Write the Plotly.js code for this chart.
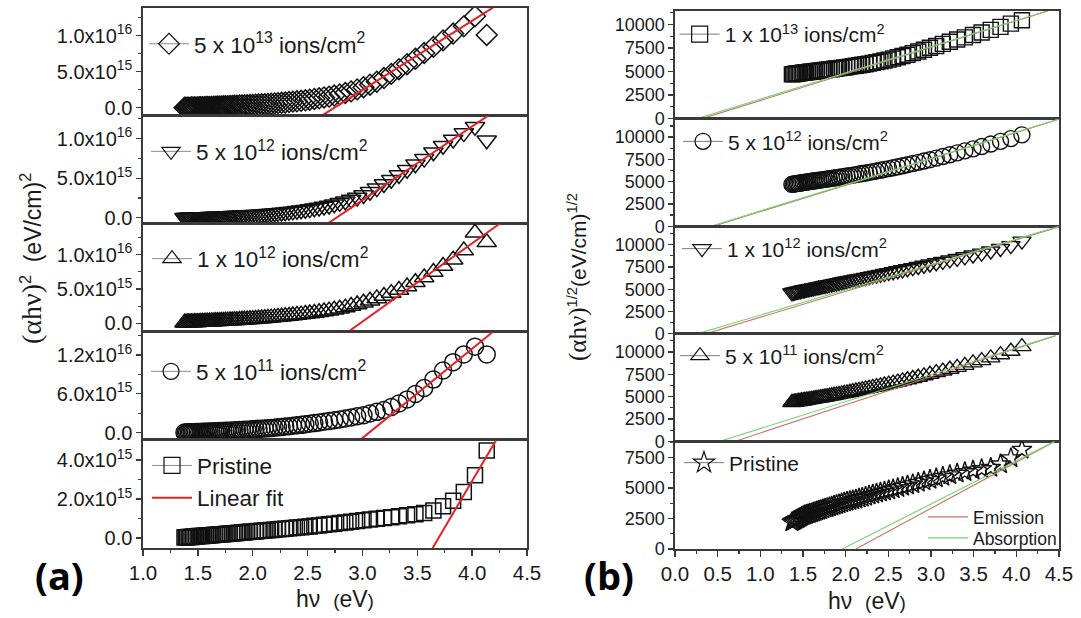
<!DOCTYPE html>
<html><head><meta charset="utf-8">
<script src="https://cdn.plot.ly/plotly-3.0.1.min.js"></script>
<style>html,body{margin:0;padding:0;background:#fff}#chart{width:1081px;height:618px}</style>
</head><body><div id="chart"></div>
<script>
// ---------- Panel (a): Tauc plot (αhν)^2, values in units of 1e15 (eV/cm)^2 ----------
const SCALE_A = 1e15;
const energyA = [1.378,1.390,1.403,1.416,1.429,1.442,1.455,1.469,1.483,1.498,
 1.512,1.527,1.542,1.558,1.574,1.590,1.606,1.623,1.640,1.658,
 1.676,1.694,1.713,1.732,1.751,1.771,1.792,1.813,1.834,1.856,
 1.879,1.902,1.925,1.950,1.975,2.000,2.026,2.053,2.081,2.109,
 2.138,2.168,2.199,2.230,2.263,2.296,2.331,2.366,2.403,2.441,
 2.480,2.520,2.562,2.605,2.650,2.696,2.743,2.793,2.844,2.897,
 2.952,3.010,3.069,3.131,3.196,3.263,3.333,3.407,3.483,3.563,
 3.647,3.735,3.827,3.924,4.026,4.133];
const tauc5e13 = [0.00,0.01,0.01,0.02,0.02,0.03,0.04,0.04,0.05,0.06,
 0.07,0.08,0.09,0.09,0.10,0.11,0.12,0.13,0.14,0.15,
 0.17,0.18,0.19,0.20,0.21,0.23,0.24,0.26,0.27,0.29,
 0.31,0.32,0.34,0.36,0.38,0.40,0.43,0.45,0.48,0.51,
 0.54,0.57,0.61,0.65,0.69,0.73,0.79,0.85,0.90,0.97,
 1.04,1.12,1.22,1.31,1.43,1.55,1.70,1.86,2.05,2.28,
 2.55,2.85,3.20,3.62,4.12,4.70,5.35,6.05,6.80,7.60,
 8.45,9.35,10.3,11.3,12.7,10.1];
const tauc5e12 = [0.00,0.01,0.01,0.02,0.02,0.03,0.04,0.04,0.05,0.06,
 0.07,0.07,0.08,0.09,0.10,0.10,0.11,0.12,0.13,0.14,
 0.16,0.17,0.18,0.19,0.20,0.21,0.22,0.24,0.25,0.27,
 0.29,0.30,0.32,0.34,0.35,0.37,0.39,0.42,0.44,0.47,
 0.50,0.53,0.57,0.61,0.65,0.70,0.75,0.80,0.87,0.94,
 1.01,1.09,1.19,1.29,1.41,1.54,1.71,1.88,2.08,2.29,
 2.56,2.87,3.28,3.74,4.27,4.80,5.40,6.06,6.75,7.47,
 8.27,9.10,9.90,10.7,11.5,9.8];
const tauc1e12 = [0.10,0.11,0.12,0.13,0.14,0.14,0.15,0.16,0.17,0.18,
 0.19,0.20,0.21,0.22,0.23,0.24,0.26,0.27,0.28,0.30,
 0.31,0.33,0.35,0.36,0.38,0.40,0.41,0.43,0.45,0.47,
 0.50,0.52,0.54,0.57,0.60,0.62,0.65,0.69,0.72,0.76,
 0.80,0.84,0.88,0.93,0.98,1.03,1.09,1.15,1.21,1.28,
 1.36,1.44,1.52,1.61,1.73,1.86,1.99,2.13,2.30,2.53,
 2.76,3.00,3.31,3.64,3.98,4.41,4.86,5.36,6.00,6.68,
 7.47,8.35,9.27,10.6,13.2,11.8];
const tauc5e11 = [0.00,0.01,0.02,0.03,0.03,0.04,0.05,0.06,0.07,0.08,
 0.09,0.10,0.11,0.12,0.13,0.14,0.15,0.17,0.18,0.19,
 0.21,0.22,0.23,0.25,0.26,0.28,0.29,0.31,0.33,0.36,
 0.38,0.40,0.43,0.45,0.48,0.50,0.53,0.57,0.60,0.64,
 0.67,0.71,0.75,0.80,0.86,0.92,0.98,1.04,1.11,1.19,
 1.28,1.37,1.46,1.56,1.67,1.79,1.91,2.03,2.18,2.34,
 2.51,2.68,2.95,3.20,3.50,3.95,4.50,5.13,5.96,6.90,
 8.20,9.60,10.9,12.1,13.3,12.1];
const taucPristine = [0.02,0.03,0.03,0.04,0.05,0.05,0.06,0.06,0.07,0.08,
 0.09,0.09,0.10,0.11,0.12,0.12,0.13,0.14,0.15,0.16,
 0.16,0.17,0.18,0.19,0.20,0.21,0.22,0.23,0.24,0.25,
 0.26,0.27,0.28,0.30,0.31,0.32,0.33,0.35,0.36,0.38,
 0.39,0.41,0.42,0.44,0.46,0.47,0.49,0.51,0.53,0.55,
 0.57,0.59,0.62,0.64,0.67,0.70,0.73,0.76,0.79,0.83,
 0.87,0.91,0.94,0.98,1.02,1.06,1.11,1.16,1.21,1.28,
 1.40,1.62,1.91,2.36,3.21,4.48];
const labelsA = ['5 x 10<sup>13</sup> ions/cm<sup>2</sup>','5 x 10<sup>12</sup> ions/cm<sup>2</sup>',
 '1 x 10<sup>12</sup> ions/cm<sup>2</sup>','5 x 10<sup>11</sup> ions/cm<sup>2</sup>','Pristine'];
// linear fits (end points, eV and 1e15 units)
const fitAx = [[2.63,4.19],[2.68,4.145],[2.87,4.25],[2.98,4.19],[3.64,4.22]];
const fitAy = [[-1.1,13.9],[-0.77,12.9],[-1.22,14.5],[-1.14,15.6],[-0.52,5.03]];
const tickValsA = [[0,5,10],[0,5,10],[0,5,10],[0,6,12],[0,2,4]];
const tickTextA = [
 ['0.0','5.0x10<sup>15</sup>','1.0x10<sup>16</sup>'],
 ['0.0','5.0x10<sup>15</sup>','1.0x10<sup>16</sup>'],
 ['0.0','5.0x10<sup>15</sup>','1.0x10<sup>16</sup>'],
 ['0.0','6.0x10<sup>15</sup>','1.2x10<sup>16</sup>'],
 ['0.0','2.0x10<sup>15</sup>','4.0x10<sup>15</sup>']];
const minorValsA = [[2.5,7.5,12.5],[2.5,7.5,12.5],[2.5,7.5,12.5],[3,9,15],[1,3]];

// ---------- Panel (b): (αhν)^(1/2) ----------
const energyB = [1.370,1.385,1.401,1.417,1.434,1.450,1.467,1.485,1.503,1.521,
 1.540,1.560,1.580,1.600,1.621,1.642,1.664,1.687,1.710,1.734,
 1.759,1.784,1.810,1.837,1.865,1.893,1.922,1.953,1.984,2.016,
 2.050,2.084,2.120,2.157,2.195,2.234,2.275,2.318,2.362,2.408,
 2.455,2.505,2.557,2.611,2.667,2.725,2.787,2.851,2.918,2.988,
 3.062,3.139,3.221,3.307,3.397,3.493,3.594,3.701,3.815,3.937,
 4.066];
const root1e13 = [4700,4720,4740,4760,4790,4810,4830,4860,4880,4900,
 4920,4940,4970,4990,5010,5030,5060,5080,5110,5130,
 5160,5190,5220,5250,5290,5320,5360,5390,5430,5470,
 5520,5570,5620,5670,5720,5780,5840,5920,6000,6080,
 6170,6260,6390,6520,6650,6790,6950,7130,7320,7520,
 7720,7940,8170,8400,8630,8880,9150,9420,9740,10090,
 10450];
const root5e12 = [4700,4720,4750,4770,4800,4820,4850,4870,4900,4930,
 4950,4980,5010,5040,5070,5100,5130,5160,5190,5230,
 5260,5300,5330,5370,5410,5450,5490,5530,5580,5630,
 5680,5730,5790,5850,5910,5970,6040,6120,6200,6280,
 6370,6460,6560,6670,6780,6900,7030,7160,7310,7460,
 7640,7820,8020,8230,8450,8680,8940,9220,9520,9830,
 10250];
const root1e12 = [4600,4630,4670,4710,4750,4780,4820,4870,4910,4940,
 4980,5020,5060,5100,5140,5180,5230,5270,5320,5370,
 5420,5470,5520,5570,5630,5690,5740,5810,5870,5930,
 5990,6050,6120,6180,6250,6320,6400,6490,6570,6670,
 6760,6860,6960,7070,7180,7300,7420,7550,7690,7830,
 7970,8130,8290,8460,8640,8840,9050,9290,9570,9890,
 10400];
const root5e11 = [4350,4370,4400,4420,4450,4470,4500,4520,4550,4580,
 4610,4640,4680,4710,4740,4780,4810,4850,4890,4920,
 4970,5010,5060,5110,5160,5210,5260,5320,5370,5430,
 5500,5570,5640,5710,5790,5870,5950,6040,6120,6220,
 6310,6410,6530,6640,6770,6900,7040,7180,7340,7510,
 7690,7870,8070,8280,8510,8780,9040,9340,9700,10090,
 10600];
const rootPristine = [2200,2260,2320,2380,2450,2510,2570,2640,2710,2760,
 2800,2850,2900,2940,2990,3040,3090,3150,3200,3260,
 3320,3370,3430,3490,3550,3610,3680,3750,3820,3880,
 3940,4000,4070,4140,4210,4280,4390,4470,4550,4630,
 4720,4810,4900,5000,5100,5200,5320,5430,5550,5680,
 5800,5920,6060,6190,6310,6440,6560,6670,6950,7450,
 8150];
const labelsB = ['1 x 10<sup>13</sup> ions/cm<sup>2</sup>','5 x 10<sup>12</sup> ions/cm<sup>2</sup>',
 '1 x 10<sup>12</sup> ions/cm<sup>2</sup>','5 x 10<sup>11</sup> ions/cm<sup>2</sup>','Pristine'];
const emissionX = [[0.32,4.37],[0.45,4.5],[0.36,4.5],[0.70,4.46],[2.12,4.45]];
const emissionY = [[0,11430],[0,12000],[0,12000],[0,11830],[0,8820]];
const absorptionX = [[0.26,4.36],[0.42,4.5],[0.26,4.5],[0.52,4.46],[1.96,4.45]];
const absorptionY = [[0,11430],[0,12030],[0,12050],[0,11850],[0,8820]];

// ---------- styling ----------
const FONT = 'Liberation Sans, Arial, sans-serif';
const INK = '#1a1a1a';
const FRAME = '#3a3a3a';
const seriesA = [tauc5e13, tauc5e12, tauc1e12, tauc5e11, taucPristine];
const seriesB = [root1e13, root5e12, root1e12, root5e11, rootPristine];
const symA = ['diamond-open','triangle-down-open','triangle-up-open','circle-open','square-open'];
const sizeA = [16,17,17,17,15];
const symB = ['square-open','circle-open','triangle-down-open','triangle-up-open','star-open'];
const sizeB = [15,16,16,16,15];
const rangeA = [[-1.1,13.9],[-0.77,12.9],[-1.22,14.5],[-1.14,15.6],[-0.52,5.03]];
const rangeB = [[0,11430],[0,12075],[0,12075],[0,12037],[0,8820]];
const yDomA = [[0.81278,0.98770],[0.63786,0.81278],[0.46311,0.63786],[0.28819,0.46311],[0.11327,0.28819]];
const yDomB = [[0.80809,0.98220],[0.63398,0.80809],[0.45987,0.63398],[0.28576,0.45987],[0.11165,0.28576]];
const xDomA = [0.1323,0.4875];
const xDomB = [0.6244,0.9796];
const legPosA = [[0.1332,0.9286,'middle'],[0.1351,0.7545,'middle'],[0.1360,0.5809,'middle'],[0.1351,0.3985,'middle'],[0.1360,0.2810,'top']];
const legPosB = [[0.6241,0.9442],[0.6272,0.7707],[0.6263,0.5971],[0.6244,0.4239],[0.6281,0.2508]];

const traces = [];
const layout = {
  width:1081, height:618, margin:{l:0,r:0,t:0,b:0},
  paper_bgcolor:'#fff', plot_bgcolor:'#fff', showlegend:true,
  font:{family:FONT, color:INK},
  annotations:[],
};
function sfx(k){ return k===1 ? '' : String(k); }

function xAxis(k, dom, range, bottom){
  const ax = {domain:dom, range:range, anchor:'y'+sfx(k), showline:true, mirror:true,
    linecolor:FRAME, linewidth:1.6, showgrid:false, zeroline:false,
    ticks: bottom ? 'outside' : '', showticklabels: bottom,
    tickmode:'linear', tick0:0, dtick:0.5, tickformat:'.1f',
    ticklen:6, tickwidth:1.3, tickcolor:FRAME,
    tickfont:{family:FONT, size:20.5, color:INK}};
  if(bottom){
    ax.minor = {ticks:'outside', ticklen:3.5, tickwidth:1.2, tickcolor:FRAME, tick0:0, dtick:0.25};
    ax.title = {text:'h\u03bd\u00a0 <span style="font-size:19px">(</span>eV<span style="font-size:19px">)</span>',
      font:{family:FONT, size:23, color:INK}, standoff:8};
  }
  return ax;
}

for(let i=0;i<5;i++){
  const k = i+1, s = sfx(k);
  layout['xaxis'+s] = xAxis(k, xDomA, [1.0,4.5], i===4);
  layout['yaxis'+s] = {domain:yDomA[i], range:rangeA[i].map(v=>v*SCALE_A), anchor:'x'+s,
    showline:true, mirror:true, linecolor:FRAME, linewidth:1.6, showgrid:false, zeroline:false,
    ticks:'outside', ticklen:5, tickwidth:1.3, tickcolor:FRAME,
    tickmode:'array', tickvals:tickValsA[i].map(v=>v*SCALE_A), ticktext:tickTextA[i],
    tickfont:{family:FONT, size:20, color:INK},
    minor:{tickmode:'array', tickvals:minorValsA[i].map(v=>v*SCALE_A), ticks:'outside', ticklen:3, tickwidth:1.2, tickcolor:FRAME}};
  const lg = 'legend'+s;
  layout[lg] = {x:legPosA[i][0], y:legPosA[i][1], xanchor:'left', yanchor:legPosA[i][2],
    bgcolor:'rgba(0,0,0,0)', borderwidth:0, itemwidth:40, tracegroupgap:0,
    font:{family:FONT, size:22.5, color:INK}};
  traces.push({x:energyA, y:seriesA[i].map(v=>v*SCALE_A), xaxis:'x'+s, yaxis:'y'+s, mode:'markers',
    marker:{symbol:symA[i], size:sizeA[i], color:'#111', line:{color:'#111', width:1.5}}, showlegend:false});
  traces.push({x:[null], y:[null], xaxis:'x'+s, yaxis:'y'+s, mode:'lines+markers', name:labelsA[i], legend:lg,
    line:{color:'#8c8c8c', width:1}, marker:{symbol:symA[i], size:16, color:'#111', line:{color:'#111', width:1.2}}, showlegend:true});
  traces.push({x:fitAx[i], y:fitAy[i].map(v=>v*SCALE_A), xaxis:'x'+s, yaxis:'y'+s, mode:'lines', name:'Linear fit', legend:lg,
    line:{color:'#e3232a', width:2}, showlegend: i===4});
}

for(let i=0;i<5;i++){
  const k = i+6, s = sfx(k);
  layout['xaxis'+s] = xAxis(k, xDomB, [0,4.5], i===4);
  layout['yaxis'+s] = {domain:yDomB[i], range:rangeB[i], anchor:'x'+s,
    showline:true, mirror:true, linecolor:FRAME, linewidth:1.6, showgrid:false, zeroline:false,
    ticks:'outside', ticklen:5, tickwidth:1.3, tickcolor:FRAME,
    tickmode:'linear', tick0:0, dtick:2500, tickformat:'d',
    tickfont:{family:FONT, size:18, color:INK},
    minor:{ticks:'outside', ticklen:3, tickwidth:1.2, tickcolor:FRAME, tick0:0, dtick:1250}};
  const lg = 'legend'+s;
  layout[lg] = {x:legPosB[i][0], y:legPosB[i][1], xanchor:'left', yanchor:'middle',
    bgcolor:'rgba(0,0,0,0)', borderwidth:0, itemwidth:40, tracegroupgap:0,
    font:{family:FONT, size:21, color:INK}};
  traces.push({x:energyB, y:seriesB[i], xaxis:'x'+s, yaxis:'y'+s, mode:'markers',
    marker:{symbol:symB[i], size:sizeB[i], color:'#111', line:{color:'#111', width:1.4}}, showlegend:false});
  traces.push({x:[null], y:[null], xaxis:'x'+s, yaxis:'y'+s, mode:'lines+markers', name:labelsB[i], legend:lg,
    line:{color:'#7a7a7a', width:1}, marker:{symbol:symB[i], size:16, color:'#111', line:{color:'#111', width:1.2}}, showlegend:true});
  traces.push({x:emissionX[i], y:emissionY[i], xaxis:'x'+s, yaxis:'y'+s, mode:'lines', name:'Emission', legend:'legend11',
    line:{color:'#cd7070', width:1.1}, showlegend: i===4});
  traces.push({x:absorptionX[i], y:absorptionY[i], xaxis:'x'+s, yaxis:'y'+s, mode:'lines', name:'Absorption', legend:'legend12',
    line:{color:'#6fd66f', width:1.1}, showlegend: i===4});
}
layout.legend11 = {x:0.8538, y:0.1634, xanchor:'left', yanchor:'middle', bgcolor:'rgba(0,0,0,0)', itemwidth:40,
  font:{family:FONT, size:17.5, color:INK}};
layout.legend12 = {x:0.8538, y:0.1294, xanchor:'left', yanchor:'middle', bgcolor:'rgba(0,0,0,0)', itemwidth:40,
  font:{family:FONT, size:17.5, color:INK}};

const SERIF = 'Liberation Serif, Times New Roman, serif';
layout.annotations.push(
  {xref:'paper', yref:'paper', x:0.0287, y:0.5809, xanchor:'center', yanchor:'middle', textangle:-90, showarrow:false,
   text:'<span style="font-family:'+SERIF+';font-size:28px">(\u03b1h\u03bd)</span><sup>2</sup>\u00a0\u00a0(eV/cm)<sup>2</sup>',
   font:{family:FONT, size:23, color:INK}},
  {xref:'paper', yref:'paper', x:0.5347, y:0.5518, xanchor:'center', yanchor:'middle', textangle:-90, showarrow:false,
   text:'<span style="font-family:'+SERIF+';font-size:25px">(\u03b1h\u03bd)</span><sup>1/2</sup>(eV/cm)<sup>1/2</sup>',
   font:{family:FONT, size:21, color:INK}},
  {xref:'paper', yref:'paper', x:0.0555, y:0.0696, xanchor:'center', yanchor:'middle', showarrow:false,
   text:'<b>(a)</b>', font:{family:'Open Sans, Liberation Sans, sans-serif', size:38, color:'#000'}},
  {xref:'paper', yref:'paper', x:0.5634, y:0.0696, xanchor:'center', yanchor:'middle', showarrow:false,
   text:'<b>(b)</b>', font:{family:'Open Sans, Liberation Sans, sans-serif', size:38, color:'#000'}}
);

Plotly.newPlot('chart', traces, layout, {displayModeBar:false, staticPlot:true});
</script></body></html>
